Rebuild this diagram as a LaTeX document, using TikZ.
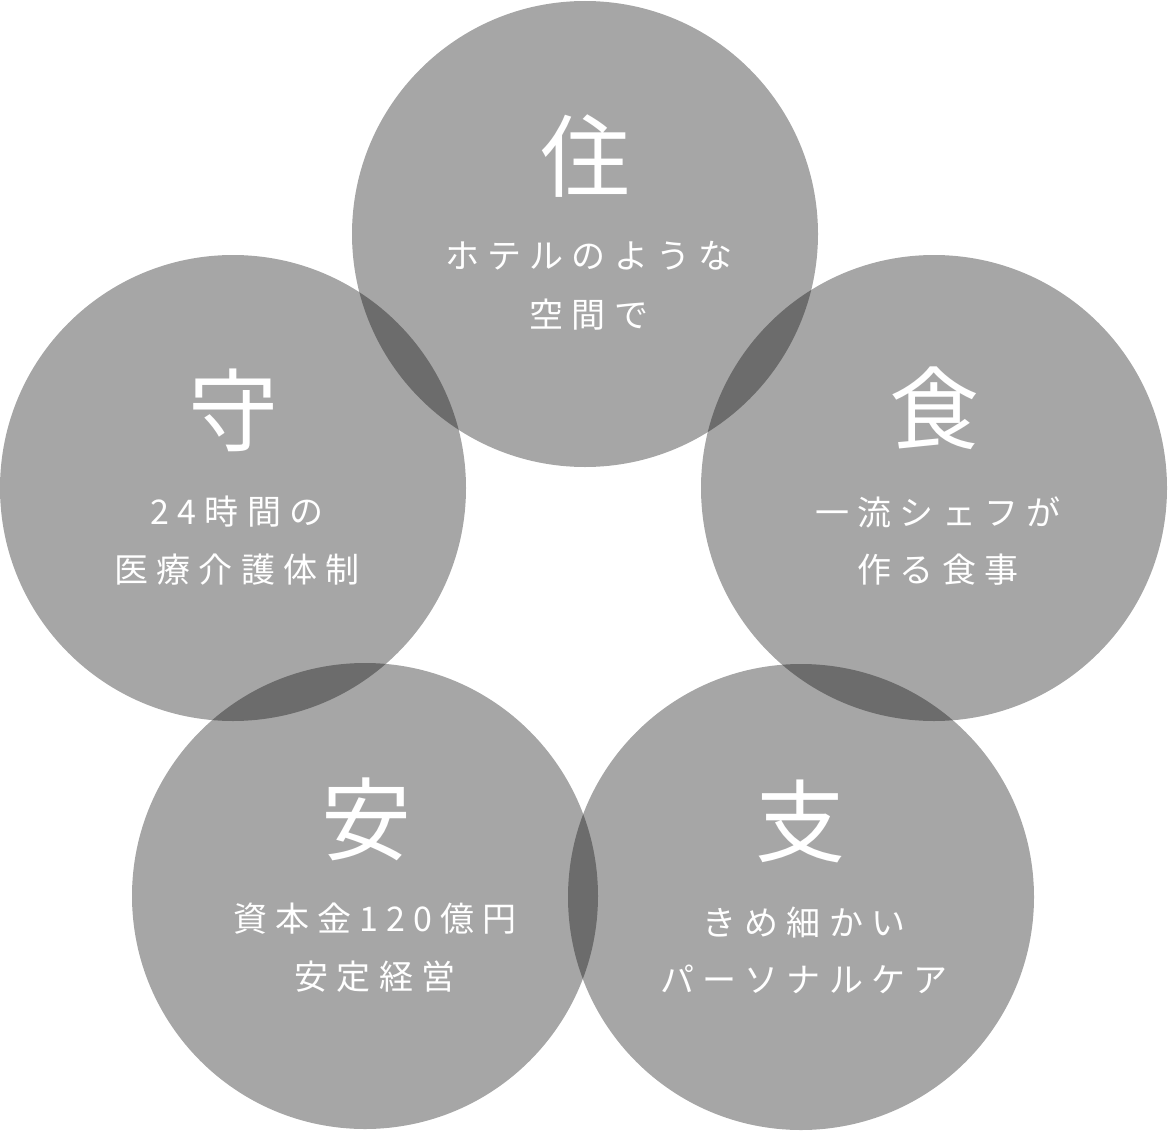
\documentclass[tikz,border=0pt]{standalone}
\usepackage{fontspec}
\setmainfont{Noto Sans CJK JP}
\newfontfamily\jpbig{Noto Sans CJK JP}
\newfontfamily\jpsmall{Noto Sans CJK JP}[LetterSpace=24]
\begin{document}
\begin{tikzpicture}[x=1pt,y=-1pt,
  ring/.style={circle, minimum size=466pt, inner sep=0pt, fill=black, fill opacity=0.35, draw=none},
  bigchar/.style={anchor=base, inner sep=0pt, text=white, font=\jpbig\fontsize{90}{90}\selectfont},
  caption/.style={anchor=base, inner sep=0pt, text=white, font=\jpsmall\fontsize{34}{34}\selectfont}]
\useasboundingbox (0,0) rectangle (1168,1132);
% circles
\node[ring] (cTop) at (585,234) {};
\node[ring] (cLeft) at (233,488) {};
\node[ring] (cRight) at (934,488) {};
\node[ring] (cBL) at (365,896) {};
\node[ring] (cBR) at (801,897) {};
% top
\node[bigchar] (kTop) at (585,190) {住};
\node[caption] (tTop1) at (589,268) {ホテルのような};
\node[caption] (tTop2) at (589,327) {空間で};
% left
\node[bigchar] (kLeft) at (233,444) {守};
\node[caption] (tLeft1) at (237,524) {24時間の};
\node[caption] (tLeft2) at (237,582) {医療介護体制};
% right
\node[bigchar] (kRight) at (934,442) {食};
\node[caption] (tRight1) at (938,525) {一流シェフが};
\node[caption] (tRight2) at (938,582) {作る食事};
% bottom left
\node[bigchar] (kBL) at (366,853) {安};
\node[caption] (tBL1) at (375,931) {資本金120億円};
\node[caption] (tBL2) at (375,989) {安定経営};
% bottom right
\node[bigchar] (kBR) at (800,855) {支};
\node[caption] (tBR1) at (804,935) {きめ細かい};
\node[caption] (tBR2) at (804,992) {パーソナルケア};
\end{tikzpicture}
\end{document}
